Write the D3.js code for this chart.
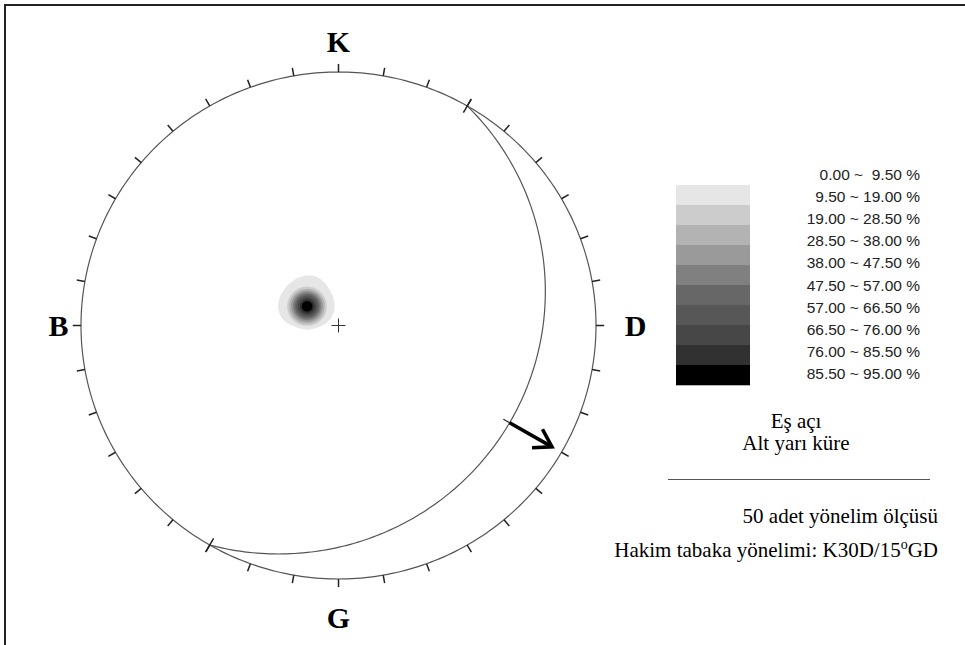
<!DOCTYPE html>
<html>
<head>
<meta charset="utf-8">
<script src="https://cdn.jsdelivr.net/npm/d3@7"></script>
<style>
  html, body { margin: 0; padding: 0; background: #fff; }
  svg { display: block; }
  .serif { font-family: "Liberation Serif", "Times New Roman", serif; }
  .sans { font-family: "Liberation Sans", Arial, sans-serif; white-space: pre; }
</style>
</head>
<body>
<svg id="chart" width="965" height="645"></svg>
<script>
// Bedding measurements (dip direction / dip, degrees)
const dipDirections = [120,119,137,121,120,118,133,122,120,116, 120,121,119,127,123,120,136,121,117,120,
                       129,118,122,132,116,120,124,122,116,128, 122,115,121,117,120,132,123,120,119,134,
                       120,122,127,120,119,124,121,118,120,120];
const dips          = [16,16,19,16,16,16,19,16,15,20, 16,15,16,13,15,17,17,16,15,16,
                       20,17,17,17,17,16,16,20,16,18, 15,19,17,16,15,14,16,19,15,15,
                       16,16,15,17,16,19,16,16,16,16];

// Dominant bedding plane: K30D / 15° GD (strike 030, dip 15° towards 120)
const planeStrike = 30;
const planeDip = 15;

// Contour classes (percent of poles)
const contourLevels = [0.2, 9.5, 19, 28.5, 38, 47.5, 57, 66.5, 76, 85.5];
const contourColors = ["#e6e6e6","#cccccc","#b3b3b3","#9a9a9a","#808080","#676767","#575757","#474747","#313131","#000000"];
const legendLabels = ["0.00 ~  9.50 %","9.50 ~ 19.00 %","19.00 ~ 28.50 %","28.50 ~ 38.00 %","38.00 ~ 47.50 %",
                      "47.50 ~ 57.00 %","57.00 ~ 66.50 %","66.50 ~ 76.00 %","76.00 ~ 85.50 %","85.50 ~ 95.00 %"];

// Net annotations
const directionLabels = ["K", "D", "G", "B"];
const directionAzimuths = [0, 90, 180, 270];
const tickAzimuths = d3.range(0, 360, 10);
const projectionLines = ["Eş açı", "Alt yarı küre"];
const countLine = "50 adet yönelim ölçüsü";
const dominantPrefix = "Hakim tabaka yönelimi: K30D/15";
const dominantSuffix = "GD";

// ---------------------------------------------------------------
const svg = d3.select("#chart");
const rad = Math.PI / 180;

// frame
svg.append("path")
  .attr("d", "M5,647 L5,5 L967,5")
  .attr("fill", "none").attr("stroke", "#222").attr("stroke-width", 2);

// net scales (unit disc -> pixels)
const cx = 338.5, cy = 325.5, rx = 257.5, ry = 253.5;
const x = d3.scaleLinear().domain([-1, 1]).range([cx - rx, cx + rx]);
const y = d3.scaleLinear().domain([-1, 1]).range([cy + ry, cy - ry]);

const polar = (az, r) => [r * Math.sin(az * rad), r * Math.cos(az * rad)];
const toPx = p => [x(p[0]), y(p[1])];
function dirVec(trend, plunge) { // east, north, down
  const cp = Math.cos(plunge * rad);
  return [cp * Math.sin(trend * rad), cp * Math.cos(trend * rad), Math.sin(plunge * rad)];
}
function stereo(v) { // lower hemisphere equal-angle
  let [e, n, d] = v;
  if (d < 0) { e = -e; n = -n; d = -d; }
  return [e / (1 + d), n / (1 + d)];
}
const line = d3.line();

// ---- pole density (smoothed counting circle) ----
const poles = dipDirections.map((dd, i) => dirVec(dd + 180, 90 - dips[i]));
const innerA = 2, outerA = 9, cosOuter = Math.cos(outerA * rad);
const step = 1;
const gx0 = Math.floor(cx - rx) - 2, gy0 = Math.floor(cy - ry) - 2;
const nx = Math.ceil((2 * rx + 5) / step), ny = Math.ceil((2 * ry + 5) / step);
const grid = new Float64Array(nx * ny);
for (let j = 0; j < ny; j++) {
  for (let i = 0; i < nx; i++) {
    const u = x.invert(gx0 + i * step), v = y.invert(gy0 + j * step);
    const r2 = u * u + v * v;
    if (r2 > 1) continue;
    const e = 2 * u / (1 + r2), n = 2 * v / (1 + r2), d = (1 - r2) / (1 + r2);
    let s = 0;
    for (const p of poles) {
      const c = Math.abs(e * p[0] + n * p[1] + d * p[2]);
      if (c < cosOuter) continue;
      const a = Math.acos(Math.min(1, c)) / rad;
      s += a <= innerA ? 1 : (outerA - a) / (outerA - innerA);
    }
    grid[j * nx + i] = 100 * s / poles.length;
  }
}
const contours = d3.contours().size([nx, ny]).thresholds(contourLevels)(grid);
const gridPath = d3.geoPath(d3.geoIdentity().scale(step).translate([gx0 - 0.5, gy0 - 0.5]));
svg.append("g").selectAll("path").data(contours).join("path")
  .attr("d", gridPath)
  .attr("fill", (c, i) => contourColors[i])
  .attr("stroke", "none");

// ---- primitive circle ----
svg.append("path")
  .attr("d", line(d3.range(0, 361, 1).map(a => toPx(polar(a, 1)))))
  .attr("fill", "none").attr("stroke", "#555").attr("stroke-width", 1.2);

// ---- great circle of the dominant plane ----
const dipDir = planeStrike + 90;
const sVec = dirVec(planeStrike, 0), dVec = dirVec(dipDir, planeDip);
const gcPts = d3.range(0, 180.5, 1).map(t => {
  const ct = Math.cos(t * rad), st = Math.sin(t * rad);
  return toPx(stereo([ct * sVec[0] + st * dVec[0], ct * sVec[1] + st * dVec[1], ct * sVec[2] + st * dVec[2]]));
});
svg.append("path").attr("d", line(gcPts))
  .attr("fill", "none").attr("stroke", "#555").attr("stroke-width", 1.2);

// ---- ticks every 10° ----
const ticks = svg.append("g").attr("stroke", "#222").attr("stroke-width", 1.5);
ticks.selectAll("line.t").data(tickAzimuths).join("line").attr("class", "t")
  .attr("x1", a => x(polar(a, 1)[0])).attr("y1", a => y(polar(a, 1)[1]))
  .attr("x2", a => x(polar(a, 1.032)[0])).attr("y2", a => y(polar(a, 1.032)[1]));
// strike marks crossing the primitive
ticks.selectAll("line.s").data([planeStrike, planeStrike + 180]).join("line").attr("class", "s")
  .attr("x1", a => x(polar(a, 0.97)[0])).attr("y1", a => y(polar(a, 0.97)[1]))
  .attr("x2", a => x(polar(a, 1.03)[0])).attr("y2", a => y(polar(a, 1.03)[1]));

// ---- dip arrow ----
const r0 = Math.tan((90 - planeDip) / 2 * rad);
const p0 = toPx(polar(dipDir, r0 - 0.028));
const p1 = toPx(polar(dipDir, r0));
const p2 = toPx(polar(dipDir, r0 + 0.19));
svg.append("line").attr("x1", p0[0]).attr("y1", p0[1]).attr("x2", p1[0]).attr("y2", p1[1])
  .attr("stroke", "#222").attr("stroke-width", 1.2);
svg.append("line").attr("x1", p1[0]).attr("y1", p1[1]).attr("x2", p2[0]).attr("y2", p2[1])
  .attr("stroke", "#000").attr("stroke-width", 3.6);
const ang = Math.atan2(p2[1] - p1[1], p2[0] - p1[0]);
const headLen = 20;
const arm = s => [p2[0] - headLen * Math.cos(ang + s * 32 * rad), p2[1] - headLen * Math.sin(ang + s * 32 * rad)];
svg.append("path").attr("d", line([arm(1), p2, arm(-1)]))
  .attr("fill", "none").attr("stroke", "#000").attr("stroke-width", 3.6)
  .attr("stroke-linejoin", "miter").attr("stroke-linecap", "butt");

// ---- centre cross ----
svg.append("path")
  .attr("d", `M${x(0) - 7},${y(0)}H${x(0) + 7}M${x(0)},${y(0) - 7}V${y(0) + 7}`)
  .attr("stroke", "#333").attr("stroke-width", 1);

// ---- direction letters ----
const labelOffset = { K: [0, -20], D: [39.5, 10.5], G: [0, 49], B: [-22.5, 10.5] };
svg.append("g").selectAll("text").data(directionLabels).join("text")
  .attr("class", "serif")
  .attr("x", (l, i) => x(polar(directionAzimuths[i], 1)[0]) + labelOffset[l][0])
  .attr("y", (l, i) => y(polar(directionAzimuths[i], 1)[1]) + labelOffset[l][1])
  .attr("text-anchor", "middle")
  .attr("font-size", 30).attr("font-weight", "bold").attr("fill", "#000")
  .text(l => l);

// ---- legend ----
const band = d3.scaleBand().domain(d3.range(contourColors.length)).range([185, 385]);
svg.append("g").selectAll("rect").data(contourColors).join("rect")
  .attr("x", 676).attr("width", 74)
  .attr("y", (c, i) => band(i)).attr("height", band.bandwidth() + 0.3)
  .attr("fill", c => c);
const labelY = d3.scaleLinear().domain([0, legendLabels.length - 1]).range([180, 379]);
svg.append("g").selectAll("text").data(legendLabels).join("text")
  .attr("class", "sans")
  .attr("x", 920).attr("y", (t, i) => labelY(i))
  .attr("text-anchor", "end").attr("font-size", 15.5).attr("fill", "#222")
  .text(t => t);

// ---- notes ----
svg.append("g").selectAll("text").data(projectionLines).join("text")
  .attr("class", "serif")
  .attr("x", 796).attr("y", (t, i) => 428 + i * 22)
  .attr("text-anchor", "middle").attr("font-size", 21).attr("fill", "#000")
  .text(t => t);
svg.append("line").attr("x1", 668).attr("x2", 930).attr("y1", 479.5).attr("y2", 479.5)
  .attr("stroke", "#555").attr("stroke-width", 1.2);
svg.append("text").attr("class", "serif")
  .attr("x", 938).attr("y", 523).attr("text-anchor", "end")
  .attr("font-size", 21).attr("fill", "#000").text(countLine);
const dom = svg.append("text").attr("class", "serif")
  .attr("x", 938).attr("y", 557).attr("text-anchor", "end")
  .attr("font-size", 21).attr("fill", "#000");
dom.append("tspan").text(dominantPrefix);
dom.append("tspan").attr("font-size", 14).attr("dy", -8).text("o");
dom.append("tspan").attr("dy", 8).text(dominantSuffix);
</script>
</body>
</html>
